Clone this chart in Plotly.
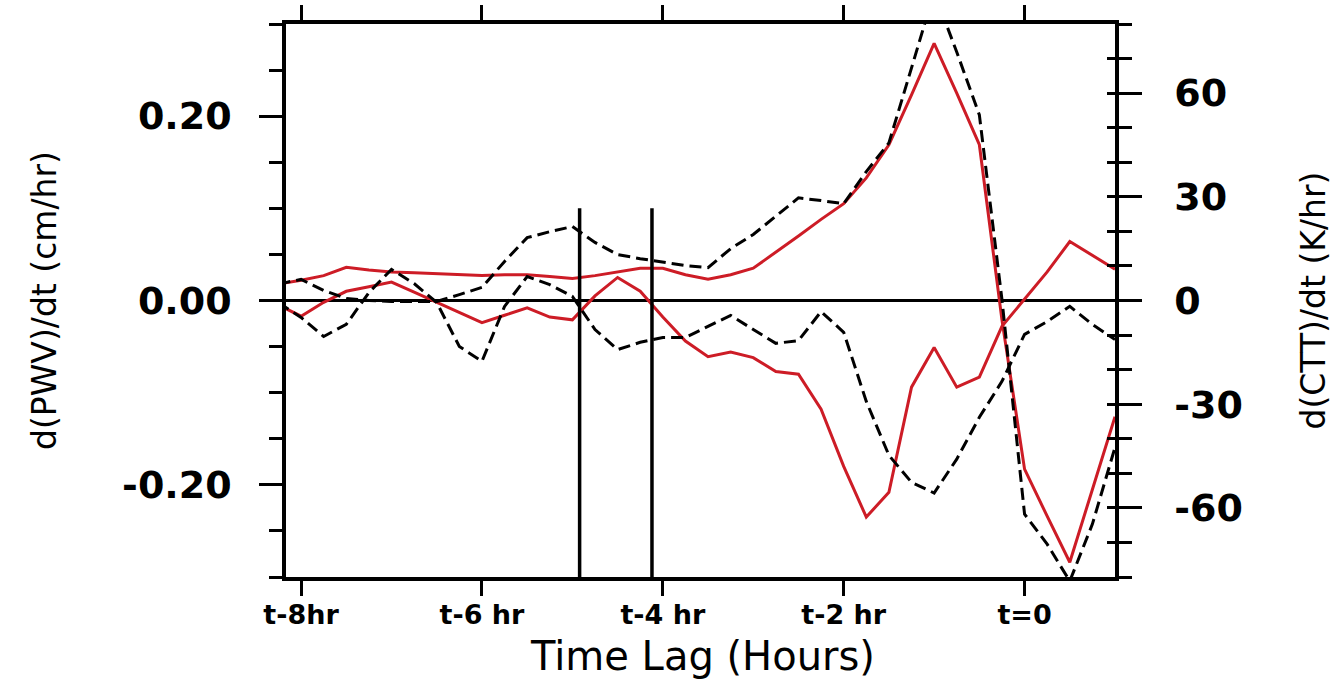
import plotly.graph_objects as go

# ---------------- data ----------------
times = [-8.25, -8.0, -7.75, -7.5, -7.25, -7.0, -6.75, -6.5, -6.25, -6.0,
         -5.75, -5.5, -5.25, -5.0, -4.75, -4.5, -4.25, -4.0, -3.75, -3.5,
         -3.25, -3.0, -2.75, -2.5, -2.25, -2.0, -1.75, -1.5, -1.25, -1.0,
         -0.75, -0.5, -0.25, 0.0, 0.25, 0.5, 0.75, 1.0]

# d(PWV)/dt (cm/hr) - red solid lines, left axis
pwv_a = [0.018, 0.022, 0.027, 0.036, 0.033, 0.031, 0.030, 0.029, 0.028, 0.027,
         0.028, 0.028, 0.026, 0.024, 0.027, 0.031, 0.035, 0.035, 0.028, 0.023,
         0.028, 0.035, 0.053, 0.070, 0.088, 0.105, 0.133, 0.169, 0.223, 0.279,
         0.225, 0.169, -0.021, -0.183, -0.234, -0.284, -0.205, -0.126]
pwv_b = [-0.005, -0.017, -0.002, 0.010, 0.015, 0.020, 0.009, -0.002, -0.013, -0.024,
         -0.016, -0.008, -0.018, -0.021, 0.005, 0.025, 0.010, -0.018, -0.044, -0.061,
         -0.056, -0.062, -0.077, -0.080, -0.118, -0.180, -0.235, -0.208, -0.094, -0.051,
         -0.094, -0.083, -0.028, 0.001, 0.031, 0.064, 0.049, 0.034]

# d(CTT)/dt (K/hr) - black dashed lines, right axis
ctt_a = [4.8, 6.1, 2.9, 0.6, 0.0, -0.3, -0.3, -0.3, 1.7, 3.8,
         11.3, 18.2, 19.9, 21.4, 16.8, 13.3, 12.1, 11.0, 10.1, 9.5,
         15.0, 19.1, 24.3, 29.7, 28.9, 28.0, 37.3, 45.6, 67.3, 89.2,
         71.9, 53.7, 0.3, -61.8, -70.5, -81.2, -64.7, -42.5]
ctt_b = [-0.6, -4.9, -10.4, -6.9, 2.3, 9.0, 4.9, -0.6, -13.3, -17.6,
         -1.7, 6.9, 4.6, 1.2, -8.4, -14.2, -12.1, -10.7, -10.7, -7.5,
         -4.3, -8.4, -12.4, -11.6, -3.2, -9.2, -29.2, -44.8, -52.6, -55.7,
         -45.9, -33.8, -23.4, -9.8, -6.1, -1.7, -6.9, -11.3]

# vertical marker lines (time, and PWV-axis extent)
vline_times = [-4.92, -4.12]
vline_bottom = -0.30
vline_top = 0.10

# ticks
x_tickvals = [-8, -6, -4, -2, 0]
x_ticktext = ["t-8hr", "t-6 hr", "t-4 hr", "t-2 hr", "t=0"]
left_tickvals = [-0.2, 0.0, 0.2]
left_ticktext = ["-0.20", "0.00", "0.20"]
right_tickvals = [-60, -30, 0, 30, 60]
right_ticktext = ["-60", "-30", "0", "30", "60"]

x_range = [-8.1667, 1.0]
left_range = [-0.3, 0.3]
right_range = [-80, 80]

RED = "rgb(205,28,38)"
TICKFONT = dict(family="DejaVu Sans", size=38, color="black", weight="bold")
DASH = dict(color="black", width=3, dash="12px,6px")

fig = go.Figure()

fig.add_trace(go.Scatter(x=times, y=pwv_a, mode="lines",
                         line=dict(color=RED, width=3), yaxis="y", hoverinfo="skip"))
fig.add_trace(go.Scatter(x=times, y=pwv_b, mode="lines",
                         line=dict(color=RED, width=3), yaxis="y", hoverinfo="skip"))
fig.add_trace(go.Scatter(x=times, y=ctt_a, mode="lines", line=DASH,
                         yaxis="y2", hoverinfo="skip"))
fig.add_trace(go.Scatter(x=times, y=ctt_b, mode="lines", line=DASH,
                         yaxis="y3", hoverinfo="skip"))

vx, vy = [], []
for t in vline_times:
    vx += [t, t, None]
    vy += [vline_bottom, vline_top, None]
fig.add_trace(go.Scatter(x=vx, y=vy, mode="lines",
                         line=dict(color="black", width=3.5), yaxis="y", hoverinfo="skip"))

fig.update_layout(
    width=1341, height=684,
    margin=dict(l=286, r=226, t=24, b=107, autoexpand=False),
    paper_bgcolor="white", plot_bgcolor="white",
    showlegend=False,
    xaxis=dict(
        range=x_range, tickmode="array", tickvals=x_tickvals, ticktext=x_ticktext,
        ticks="outside", ticklen=15, tickwidth=3, tickcolor="black",
        showline=True, linewidth=3.5, linecolor="black", mirror="ticks",
        showgrid=False, zeroline=False, automargin=False,
        tickfont=dict(family="DejaVu Sans", size=27, color="black", weight="bold"),
        ticklabelstandoff=-4,
    ),
    yaxis=dict(
        range=left_range, tickmode="array", tickvals=left_tickvals, ticktext=left_ticktext,
        ticks="outside", ticklen=23, tickwidth=3, tickcolor="black",
        minor=dict(dtick=0.05, tick0=0, ticks="outside", ticklen=13, tickwidth=3,
                   tickcolor="black", showgrid=False),
        showline=True, linewidth=3.5, linecolor="black",
        showgrid=False, zeroline=True, zerolinecolor="black", zerolinewidth=3,
        automargin=False, tickfont=TICKFONT, ticklabelstandoff=20,
    ),
    yaxis2=dict(
        range=right_range, overlaying="y", side="right", anchor="x",
        tickmode="array", tickvals=right_tickvals, ticktext=right_ticktext,
        ticks="outside", ticklen=23, tickwidth=3, tickcolor="black",
        minor=dict(dtick=10, tick0=0, ticks="outside", ticklen=13, tickwidth=3,
                   tickcolor="black", showgrid=False),
        showline=True, linewidth=3.5, linecolor="black",
        showgrid=False, zeroline=False, automargin=False,
        tickfont=TICKFONT, ticklabelstandoff=25,
    ),
    yaxis3=dict(
        range=right_range, overlaying="y", side="right", anchor="x",
        tickmode="linear", tick0=0, dtick=10,
        ticks="inside", ticklen=8, tickwidth=3, tickcolor="black",
        showticklabels=False, showline=False, showgrid=False, zeroline=False,
        automargin=False,
    ),
    annotations=[
        dict(text="d(PWV)/dt (cm/hr)", xref="paper", yref="paper", x=-0.2913, y=0.5,
             xanchor="center", yanchor="middle", textangle=-90, showarrow=False,
             font=dict(family="DejaVu Sans", size=33, color="black")),
        dict(text="d(CTT)/dt (K/hr)", xref="paper", yref="paper", x=1.2389, y=0.5,
             xanchor="center", yanchor="middle", textangle=-90, showarrow=False,
             font=dict(family="DejaVu Sans", size=33, color="black")),
        dict(text="Time Lag (Hours)", xref="paper", yref="paper", x=0.502, y=-0.142,
             xanchor="center", yanchor="middle", showarrow=False,
             font=dict(family="DejaVu Sans", size=40, color="black")),
    ],
)

fig.write_html("out.html",
               config={"displayModeBar": False},
               post_script="document.body.style.margin='0';document.body.style.overflow='hidden';")
